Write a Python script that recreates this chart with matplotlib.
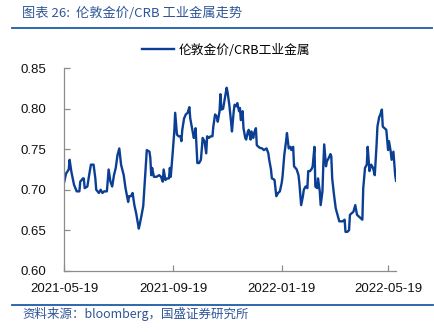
import matplotlib
matplotlib.use("Agg")
import matplotlib.pyplot as plt
import matplotlib.dates as mdates
import pandas as pd

# days after 2021-05-19
days = [0, 2, 5, 6, 8, 11, 14, 17, 18, 21, 22, 23, 26, 28, 30, 33, 35, 36, 39, 41,
        43, 45, 48, 50, 52, 54, 56, 58, 60, 62, 64, 67, 69, 72, 73, 75, 77, 79, 81, 84,
        85, 87, 89, 91, 93, 96, 97, 98, 99, 101, 104, 107, 109, 111, 112, 114, 116, 118, 119, 120,
        122, 124, 125, 127, 129, 131, 132, 133, 135, 137, 139, 141, 142, 144, 146, 147, 148, 149, 150, 152,
        154, 156, 158, 160, 161, 163, 165, 167, 168, 170, 172, 173, 175, 176, 177, 179, 181, 183, 184, 186,
        188, 189, 191, 192, 194, 195, 197, 198, 199, 201, 202, 204, 205, 207, 208, 210, 211, 213, 214, 216,
        217, 220, 223, 225, 228, 230, 231, 233, 234, 236, 237, 239, 241, 243, 245, 246, 248, 250, 251, 253,
        255, 256, 258, 259, 262, 264, 265, 267, 269, 270, 272, 274, 275, 277, 279, 280, 282, 283, 285, 286,
        288, 289, 291, 292, 293, 295, 296, 298, 300, 301, 302, 304, 306, 308, 310, 312, 314, 316, 317, 319,
        321, 322, 324, 326, 328, 330, 332, 334, 336, 337, 339, 341, 342, 344, 346, 348, 350, 352, 353, 355,
        356, 358, 359, 361, 363, 365, 366, 368, 369, 371, 372, 373, 374]
ratio = [0.710, 0.720, 0.725, 0.737, 0.722, 0.706, 0.698, 0.698, 0.710, 0.714, 0.714, 0.702, 0.704, 0.718, 0.731, 0.731, 0.714, 0.700, 0.696, 0.700,
         0.696, 0.698, 0.698, 0.725, 0.710, 0.704, 0.718, 0.727, 0.743, 0.751, 0.731, 0.718, 0.702, 0.685, 0.692, 0.692, 0.696, 0.681, 0.671, 0.652,
         0.657, 0.668, 0.680, 0.714, 0.749, 0.747, 0.739, 0.718, 0.727, 0.716, 0.716, 0.718, 0.716, 0.710, 0.725, 0.712, 0.714, 0.714, 0.727, 0.716,
         0.743, 0.772, 0.795, 0.768, 0.766, 0.766, 0.760, 0.774, 0.788, 0.793, 0.795, 0.802, 0.788, 0.776, 0.764, 0.768, 0.776, 0.755, 0.733, 0.733,
         0.737, 0.764, 0.760, 0.745, 0.766, 0.764, 0.766, 0.766, 0.778, 0.793, 0.790, 0.784, 0.797, 0.818, 0.799, 0.800, 0.813, 0.826, 0.821, 0.805,
         0.784, 0.772, 0.797, 0.805, 0.803, 0.807, 0.797, 0.801, 0.786, 0.797, 0.776, 0.764, 0.762, 0.772, 0.774, 0.762, 0.772, 0.764, 0.770, 0.776,
         0.755, 0.752, 0.751, 0.749, 0.751, 0.745, 0.737, 0.725, 0.714, 0.713, 0.712, 0.692, 0.696, 0.698, 0.708, 0.716, 0.743, 0.760, 0.770, 0.751,
         0.753, 0.749, 0.753, 0.729, 0.725, 0.718, 0.708, 0.681, 0.692, 0.700, 0.704, 0.702, 0.723, 0.723, 0.726, 0.729, 0.753, 0.704, 0.702, 0.714,
         0.698, 0.681, 0.698, 0.731, 0.756, 0.729, 0.735, 0.739, 0.744, 0.741, 0.714, 0.694, 0.677, 0.669, 0.661, 0.661, 0.661, 0.663, 0.648, 0.648,
         0.650, 0.669, 0.671, 0.673, 0.681, 0.669, 0.667, 0.665, 0.663, 0.702, 0.727, 0.731, 0.753, 0.723, 0.731, 0.727, 0.718, 0.755, 0.778, 0.790,
         0.792, 0.799, 0.778, 0.776, 0.774, 0.749, 0.760, 0.747, 0.737, 0.747, 0.733, 0.718, 0.711]
start = "2021-05-19"
xticks = ["2021-05-19", "2021-09-19", "2022-01-19", "2022-05-19"]
yticks = [0.60, 0.65, 0.70, 0.75, 0.80, 0.85]

title = "图表 26:  伦敦金价/CRB 工业金属走势"
label = "伦敦金价/CRB工业金属"
source = "资料来源：bloomberg，国盛证券研究所"

cjk = ["Noto Sans CJK SC", "DejaVu Sans"]
plt.rcParams["font.family"] = ["Liberation Sans", "Noto Sans CJK SC"]

dates = pd.Timestamp(start) + pd.to_timedelta(days, unit="D")

fig = plt.figure(figsize=(4.35, 3.32), dpi=100)
ax = fig.add_axes([0.1478, 0.1846, 0.7627, 0.6097])

ax.plot(dates, ratio, color="#0b3f94", lw=1.7, label=label)

ax.set_ylim(0.60, 0.85)
ax.set_yticks(yticks)
ax.set_yticklabels([f"{v:.2f}" for v in yticks])
ax.set_xlim(pd.Timestamp(start), pd.Timestamp("2022-05-28"))
ax.set_xticks(pd.to_datetime(xticks))
ax.xaxis.set_major_formatter(mdates.DateFormatter("%Y-%m-%d"))

for s in ["top", "right"]:
    ax.spines[s].set_visible(False)
for s in ["left", "bottom"]:
    ax.spines[s].set_color("#8c8c8c")
    ax.spines[s].set_linewidth(0.9)
ax.tick_params(direction="in", length=4, width=0.9, color="#8c8c8c",
               labelsize=9.5, labelcolor="#111111")
ax.tick_params(axis="y", pad=13)
ax.tick_params(axis="x", pad=9)

leg = fig.legend(loc="center", bbox_to_anchor=(0.52, 0.849), frameon=False,
                 handlelength=2.5, handletextpad=0.35, prop={"family": cjk, "size": 9.2})

# header and footer rules
fig.add_artist(plt.Line2D([12 / 435, 432 / 435], [1 - 27.5 / 332] * 2, color="#1f5aa6", lw=1.3))
fig.add_artist(plt.Line2D([12 / 435, 433 / 435], [1 - 305.3 / 332] * 2, color="#1f5aa6", lw=1.3))
fig.text(22 / 435, 1 - 13 / 332, title, color="#2f5597", fontsize=9.5, style="italic",
         family=cjk, va="center", ha="left")
fig.text(22 / 435, 1 - 314 / 332, source, color="#2f5597", fontsize=9, style="italic",
         family=cjk, va="center", ha="left")

fig.savefig("out.png", dpi=100)
